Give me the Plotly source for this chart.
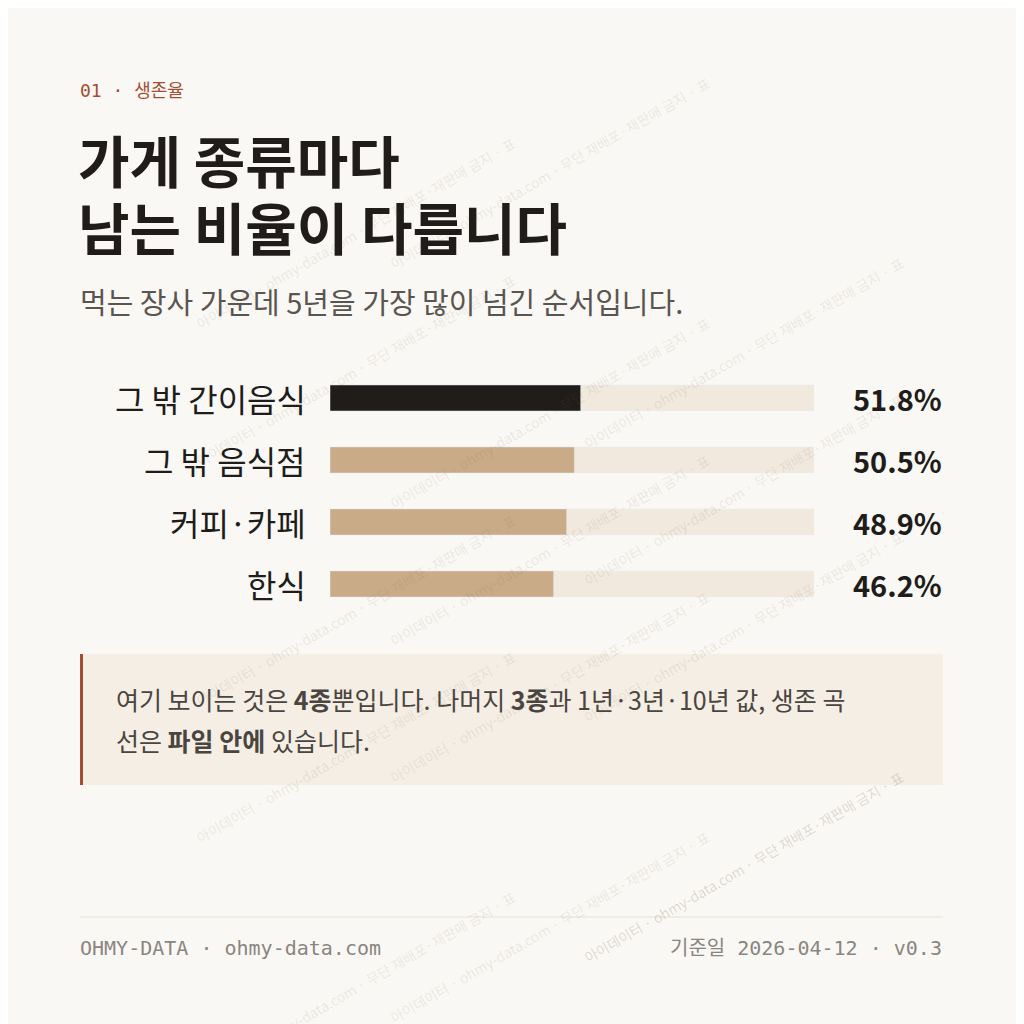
import plotly.graph_objects as go

categories = ["그 밖 간이음식", "그 밖 음식점", "커피·카페", "한식"]
survival_5y = [51.8, 50.5, 48.9, 46.2]
value_labels = ["51.8%", "50.5%", "48.9%", "46.2%"]
bar_colors = ["#201c19", "#c9ab88", "#c9ab88", "#c9ab88"]

W = H = 1024
KR = "Noto Sans CJK KR"
MONO = "DejaVu Sans Mono, Noto Sans CJK KR"
OFF = 8  # page padding in the browser

def px(x):
    return (x - OFF) / W

def py(y):
    return 1 - (y - OFF) / H

fig = go.Figure()
fig.add_trace(go.Bar(x=[100] * 4, y=categories, orientation="h", marker_color="#f1e9dd",
                     width=0.42, hoverinfo="skip", showlegend=False))
fig.add_trace(go.Bar(x=survival_5y, y=categories, orientation="h", marker_color=bar_colors,
                     width=0.42, showlegend=False))

ann = []

# watermark
wm = "아이데이터 · ohmy-data.com · 무단 재배포·재판매 금지 · 표"
for row in range(0, 5):
    for col in range(3):
        x = col * 360 + 190
        y = row * 240 + 130 - col * 60
        if y < 60:
            y += 240 * 4
        ann.append(dict(x=px(x), y=py(y), xref="paper", yref="paper", text=wm, showarrow=False,
                        textangle=-30, font=dict(family=KR, size=14, color="rgba(120,100,80,0.13)")))

for c, v in zip(categories, value_labels):
    ann.append(dict(x=px(308), y=c, xref="paper", yref="y", text=c, showarrow=False,
                    xanchor="right", font=dict(family=KR, size=32, color="#201c19")))
    ann.append(dict(x=px(944), y=c, xref="paper", yref="y", text="<b>" + v + "</b>", showarrow=False,
                    xanchor="right", font=dict(family=KR, size=29, color="#201c19")))

def txt(x, y, t, size, color, family=KR, anchor="left"):
    ann.append(dict(x=px(x), y=py(y), xref="paper", yref="paper", text=t, showarrow=False,
                    xanchor=anchor, yanchor="middle", font=dict(family=family, size=size, color=color)))

txt(78, 90, "01 · 생존율", 18, "#a34e33", MONO)
txt(76, 158, "<b>가게 종류마다</b>", 56, "#201c19")
txt(76, 225, "<b>남는 비율이 다릅니다</b>", 56, "#201c19")
txt(78, 301, "먹는 장사 가운데 5년을 가장 많이 넘긴 순서입니다.", 29, "#5a5550")
txt(114, 699, "여기 보이는 것은 <b>4종</b>뿐입니다. 나머지 <b>3종</b>과 1년·3년·10년 값, 생존 곡", 25, "#4a4541")
txt(114, 740, "선은 <b>파일 안에</b> 있습니다.", 25, "#4a4541")
txt(78, 948, "OHMY-DATA · ohmy-data.com", 20, "#8a8580", MONO)
txt(944, 948, "기준일 2026-04-12 · v0.3", 20, "#8a8580", MONO, "right")

shapes = [
    dict(type="rect", xref="paper", yref="paper", x0=px(80), x1=px(943), y0=py(785), y1=py(654),
         fillcolor="#f4eee4", line_width=0, layer="below"),
    dict(type="rect", xref="paper", yref="paper", x0=px(80), x1=px(83), y0=py(785), y1=py(654),
         fillcolor="#a34e33", line_width=0),
    dict(type="line", xref="paper", yref="paper", x0=px(80), x1=px(943), y0=py(917), y1=py(917),
         line=dict(color="#e6e0d8", width=1)),
]

fig.update_layout(
    width=W, height=H, margin=dict(l=0, r=0, t=0, b=0),
    paper_bgcolor="#faf8f4", plot_bgcolor="rgba(0,0,0,0)",
    barmode="overlay", annotations=ann, shapes=shapes,
    xaxis=dict(domain=[px(330), px(814)], range=[0, 100], visible=False, fixedrange=True),
    yaxis=dict(domain=[py(615), py(367)], autorange="reversed", visible=False, fixedrange=True),
)
fig.write_html("out.html")
